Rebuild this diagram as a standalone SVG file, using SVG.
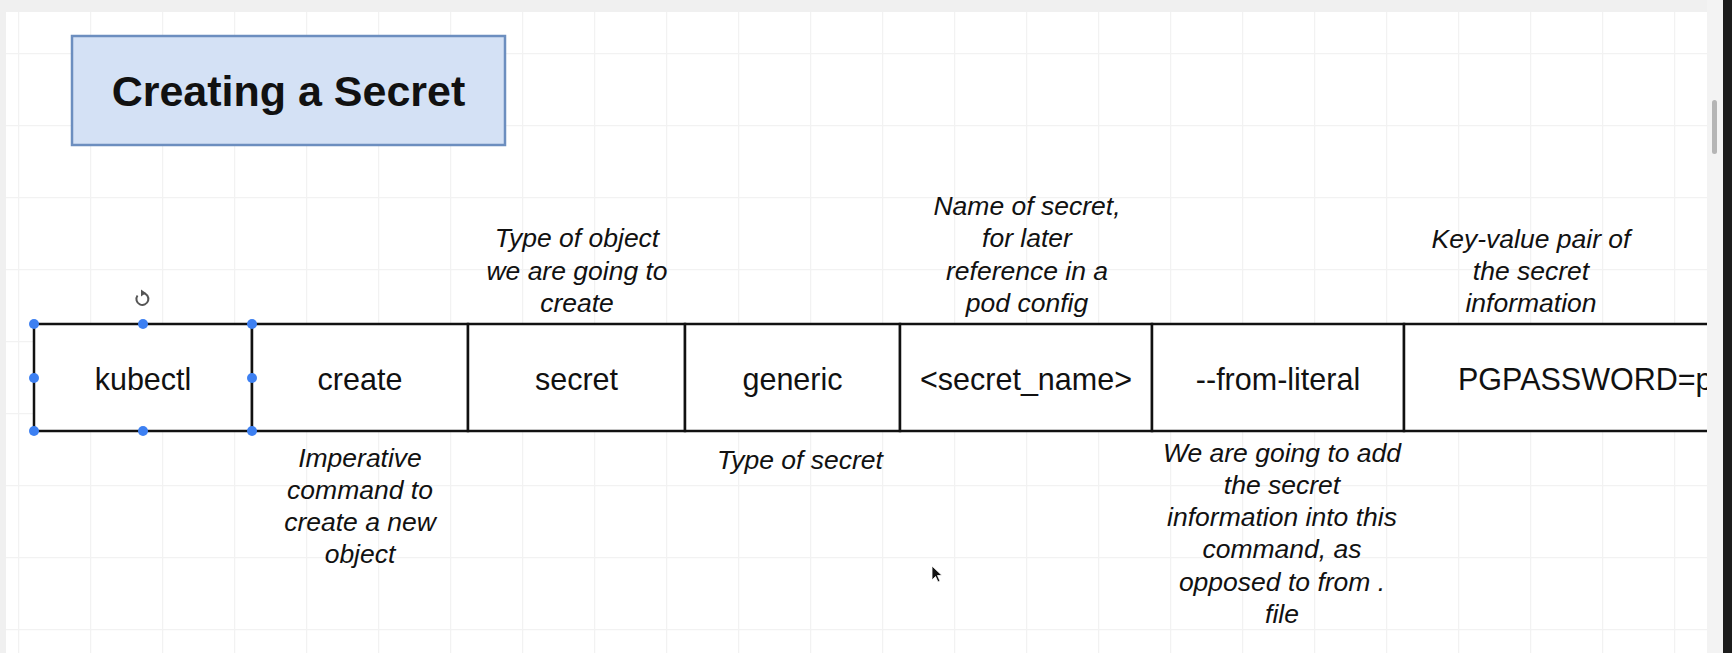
<svg xmlns="http://www.w3.org/2000/svg" width="1732" height="653" viewBox="0 0 1732 653">
  <style>
    .cell rect { fill: #ffffff; stroke: #111111; stroke-width: 2.5; }
    .cell text { font-family: "Liberation Sans", Arial, Helvetica, sans-serif; font-size: 30.5px; text-anchor: middle; fill: #111111; }
    .note text { font-family: "Liberation Sans", Arial, Helvetica, sans-serif; font-style: italic; font-size: 26.5px; text-anchor: middle; fill: #111111; }
    .handle { fill: #3d80f2; }
  </style>
  <defs>
    <pattern id="grid" patternUnits="userSpaceOnUse" x="18" y="53" width="72" height="72">
      <path d="M0 0.5 H72 M0.5 0 V72" fill="none" stroke="#f2f2f2" stroke-width="1.5"/>
    </pattern>
    <clipPath id="viewClip">
      <rect x="0" y="0" width="1707" height="653"/>
    </clipPath>
  </defs>

  <!-- canvas -->
  <rect x="0" y="0" width="1732" height="653" fill="#f0f0f0"/>
  <rect x="6" y="12" width="1701" height="641" fill="#ffffff"/>
  <rect x="6" y="12" width="1701" height="641" fill="url(#grid)"/>

  <!-- title -->
  <g id="title">
    <rect x="72" y="36" width="433" height="109" fill="#d4e1f5" stroke="#6c8ebf" stroke-width="2.5"/>
    <text x="288.5" y="106" font-family="'Liberation Sans', Arial, Helvetica, sans-serif" font-weight="bold" font-size="43" text-anchor="middle" fill="#111111">Creating a Secret</text>
  </g>

  <!-- command cells -->
  <g id="cell-kubectl" class="cell">
    <rect x="34" y="324" width="218" height="107"/>
    <text x="143" y="390">kubectl</text>
  </g>
  <g id="cell-create" class="cell">
    <rect x="252" y="324" width="216" height="107"/>
    <text x="360" y="390">create</text>
  </g>
  <g id="cell-secret" class="cell">
    <rect x="468" y="324" width="217" height="107"/>
    <text x="576.5" y="390">secret</text>
  </g>
  <g id="cell-generic" class="cell">
    <rect x="685" y="324" width="215" height="107"/>
    <text x="792.5" y="390">generic</text>
  </g>
  <g id="cell-secret-name" class="cell">
    <rect x="900" y="324" width="252" height="107"/>
    <text x="1026" y="390">&lt;secret_name&gt;</text>
  </g>
  <g id="cell-from-literal" class="cell">
    <rect x="1152" y="324" width="252" height="107"/>
    <text x="1278" y="390">--from-literal</text>
  </g>
  <g id="cell-pgpassword" class="cell" clip-path="url(#viewClip)">
    <rect x="1404" y="324" width="400" height="107"/>
    <text x="1458" y="390" style="text-anchor:start">PGPASSWORD=p</text>
  </g>

  <!-- annotations -->
  <g id="note-object-type" class="note">
    <text x="577" y="247">Type of object</text>
    <text x="577" y="280">we are going to</text>
    <text x="577" y="312">create</text>
  </g>
  <g id="note-secret-name" class="note">
    <text x="1027" y="215">Name of secret,</text>
    <text x="1027" y="247">for later</text>
    <text x="1027" y="280">reference in a</text>
    <text x="1027" y="312">pod config</text>
  </g>
  <g id="note-key-value" class="note">
    <text x="1531" y="248">Key-value pair of</text>
    <text x="1531" y="280">the secret</text>
    <text x="1531" y="312">information</text>
  </g>
  <g id="note-imperative" class="note">
    <text x="360" y="467">Imperative</text>
    <text x="360" y="499">command to</text>
    <text x="360" y="531">create a new</text>
    <text x="360" y="563">object</text>
  </g>
  <g id="note-secret-type" class="note">
    <text x="800" y="469">Type of secret</text>
  </g>
  <g id="note-from-literal" class="note">
    <text x="1282" y="462">We are going to add</text>
    <text x="1282" y="494">the secret</text>
    <text x="1282" y="526">information into this</text>
    <text x="1282" y="558">command, as</text>
    <text x="1282" y="591">opposed to from .</text>
    <text x="1282" y="623">file</text>
  </g>

  <g id="connectors"></g>

  <!-- selection handles on kubectl -->
  <g id="selection">
    <path d="M137.5 295.5 A6 6 0 1 0 143 293" fill="none" stroke="#555555" stroke-width="2"/>
    <path d="M141 289.5 L146 293 L141 296.5 Z" fill="#555555"/>
    <circle class="handle" cx="34" cy="324" r="5"/>
    <circle class="handle" cx="143" cy="324" r="5"/>
    <circle class="handle" cx="252" cy="324" r="5"/>
    <circle class="handle" cx="34" cy="378" r="5"/>
    <circle class="handle" cx="252" cy="378" r="5"/>
    <circle class="handle" cx="34" cy="431" r="5"/>
    <circle class="handle" cx="143" cy="431" r="5"/>
    <circle class="handle" cx="252" cy="431" r="5"/>
  </g>

  <!-- mouse pointer -->
  <path d="M932 566 L932 580 L935.5 576.5 L938 582 L940 581 L937.5 575.5 L942 575.5 Z" fill="#111111" stroke="#ffffff" stroke-width="0.8"/>

  <!-- window edges -->
  <rect x="1707" y="0" width="16" height="653" fill="#f3f3f3"/>
  <rect x="1712" y="100" width="5" height="54" rx="2.5" fill="#b5b5b5"/>
  <rect x="1723" y="0" width="9" height="653" fill="#1c1c1c"/>
</svg>
